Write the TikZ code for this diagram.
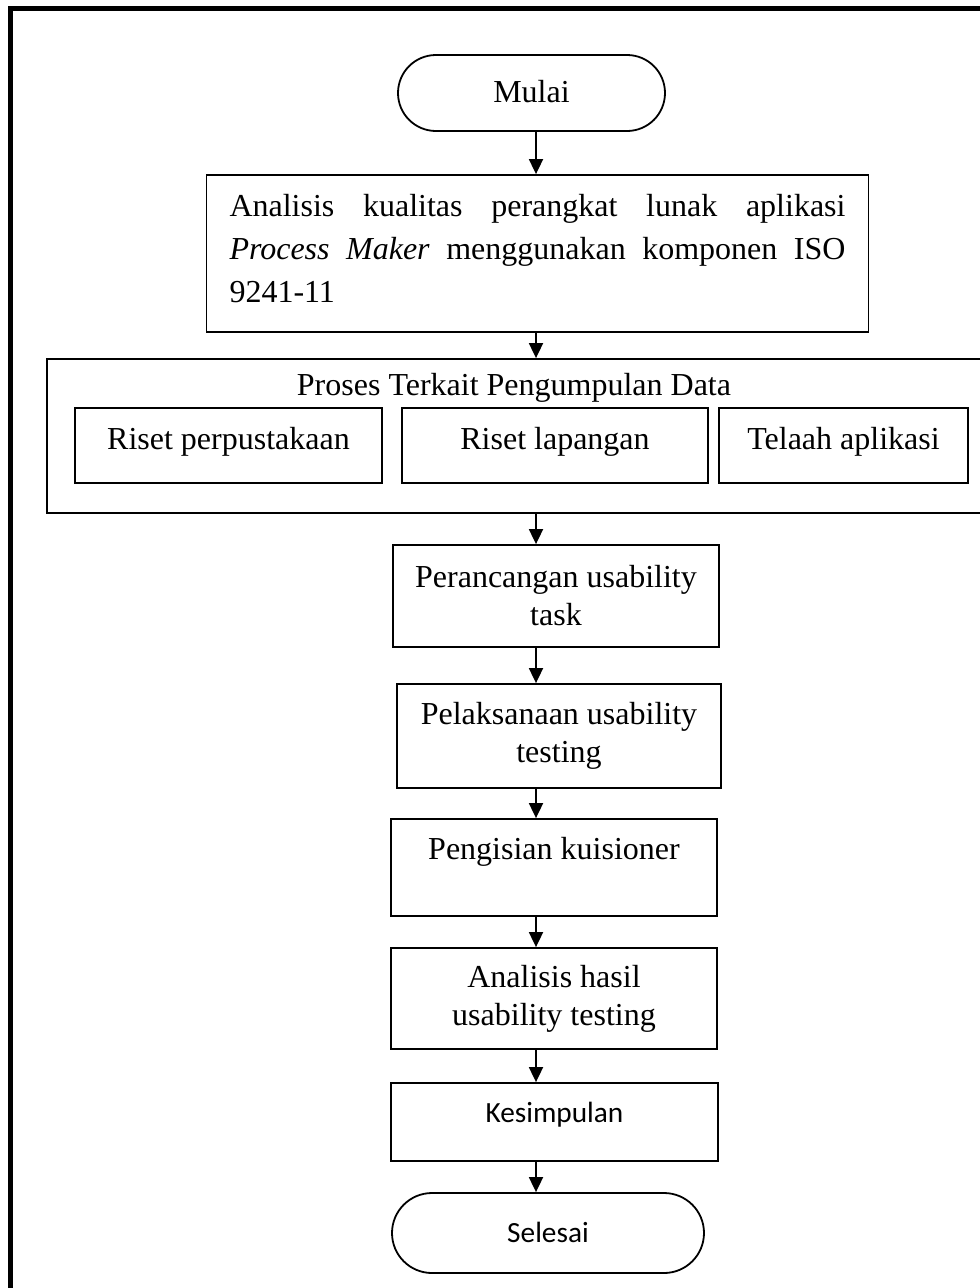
\documentclass[tikz,border=0pt]{standalone}
\usepackage{fontspec}
\setmainfont{Liberation Serif}
\newfontfamily\calibfont{Carlito}
\usetikzlibrary{arrows.meta}
\begin{document}
\begin{tikzpicture}[x=1pt,y=-1pt,
  box/.style={draw, line width=1.8pt, inner sep=0pt, font=\fontsize{32}{38}\selectfont, align=center},
  calbox/.style={box, font=\calibfont\fontsize{29.3}{35}\selectfont},
  arr/.style={line width=1.8pt, -{Triangle[length=15pt,width=14pt]}}]
\useasboundingbox (0,0) rectangle (980,1288);
\clip (0,0) rectangle (980,1288);
\fill[white] (0,0) rectangle (980,1288);
\draw[line width=5pt] (10,1300) -- (10,8) -- (990,8);
\coordinate (axis) at (536,0);

\node[box, rounded corners=38pt, minimum width=267pt, minimum height=76pt, text height=22pt, text depth=4pt] (mulai) at (531.5,93) {Mulai};

\node[box, minimum width=662pt, minimum height=157pt, text width=616pt, align=justify, font=\fontsize{32}{43}\selectfont] (analisis) at (537.5,253.5)
  {\noindent Analisis kualitas perangkat lunak aplikasi\linebreak \textit{Process Maker} menggunakan komponen ISO\linebreak 9241-11\rule[-11pt]{0pt}{11pt}};

\node[box, minimum width=953pt, minimum height=154pt] (proses) at (523.5,436) {};
\node[font=\fontsize{32}{38}\selectfont, anchor=base, inner sep=0pt] (prosestitle) at (514,395) {Proses Terkait Pengumpulan Data};
\node[box, minimum width=307pt, minimum height=75pt, text height=22pt, text depth=15pt] (riset1) at (228.5,445.5) {Riset perpustakaan};
\node[box, minimum width=306pt, minimum height=75pt, text height=22pt, text depth=15pt] (riset2) at (555,445.5) {Riset lapangan};
\node[box, minimum width=249pt, minimum height=75pt, text height=22pt, text depth=15pt] (riset3) at (843.5,445.5) {Telaah aplikasi};

\node[box, minimum width=326pt, minimum height=102pt] (perancangan) at (556,596) {Perancangan usability\\task};
\node[box, minimum width=324pt, minimum height=104pt] (pelaksanaan) at (559,736) {Pelaksanaan usability\\testing};
\node[box, minimum width=326pt, minimum height=97pt] (pengisian) at (554,867.5) {Pengisian kuisioner\\\mbox{}};
\node[box, minimum width=326pt, minimum height=101pt] (hasil) at (554,998.5) {Analisis hasil\\usability testing};
\node[calbox, minimum width=327pt, minimum height=78pt, text height=20pt, text depth=20pt] (kesimpulan) at (554.5,1122) {Kesimpulan};
\node[calbox, rounded corners=40pt, minimum width=312pt, minimum height=80pt, text height=20pt, text depth=2pt] (selesai) at (548,1233) {Selesai};

\draw[arr] (mulai.south -| axis) -- (analisis.north -| axis);
\draw[arr] (analisis.south -| axis) -- (proses.north -| axis);
\draw[arr] (proses.south -| axis) -- (perancangan.north -| axis);
\draw[arr] (perancangan.south -| axis) -- (pelaksanaan.north -| axis);
\draw[arr] (pelaksanaan.south -| axis) -- (pengisian.north -| axis);
\draw[arr] (pengisian.south -| axis) -- (hasil.north -| axis);
\draw[arr] (hasil.south -| axis) -- (kesimpulan.north -| axis);
\draw[arr] (kesimpulan.south -| axis) -- (selesai.north -| axis);
\end{tikzpicture}
\end{document}
